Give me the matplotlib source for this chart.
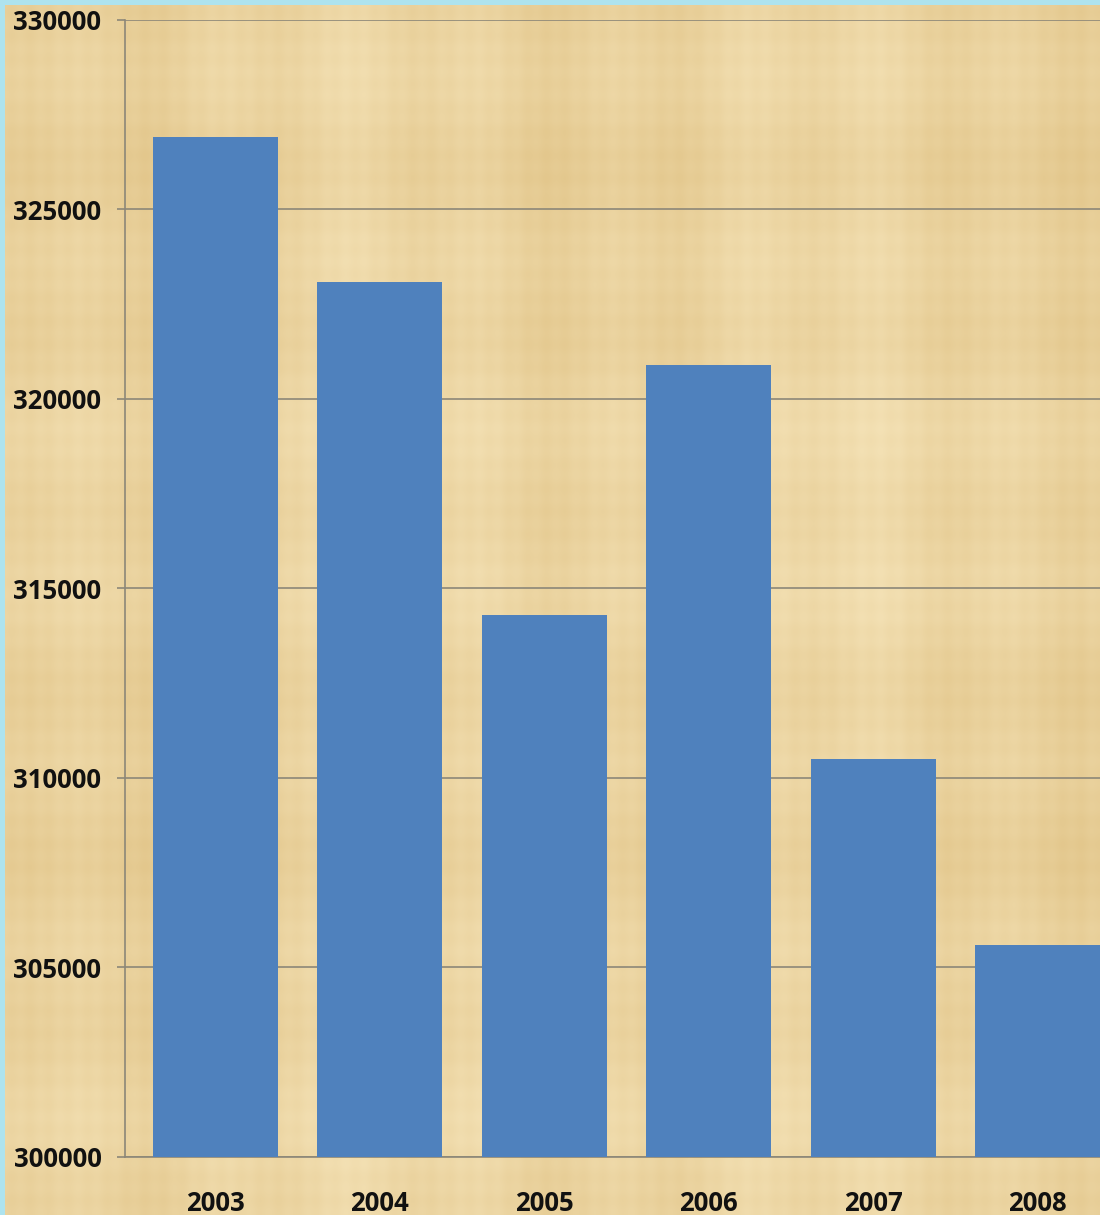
import numpy as np
import matplotlib
matplotlib.use('Agg')
import matplotlib.pyplot as plt

years = ['2003', '2004', '2005', '2006', '2007', '2008']
values = [326900, 323100, 314300, 320900, 310500, 305600]
yticks = [300000, 305000, 310000, 315000, 320000, 325000, 330000]

def papyrus(h, w):
    # simple woven-looking texture, purely decorative
    yy, xx = np.mgrid[0:h, 0:w]
    t = (np.sin(xx * 0.9) * 0.15 + np.sin(xx * 0.13 + 1.0) * 0.35 + np.sin(xx * 0.037) * 0.4
         + np.sin(yy * 0.8) * 0.12 + np.sin(yy * 0.11 + 2.0) * 0.3 + np.sin(yy * 0.029) * 0.3)
    t = (t - t.min()) / (t.max() - t.min())
    light = np.array([0.96, 0.89, 0.72])
    dark = np.array([0.89, 0.78, 0.55])
    return light[None, None, :] * (1 - t[..., None]) + dark[None, None, :] * t[..., None]

fig = plt.figure(figsize=(11, 12.15), dpi=100)
fig.patch.set_facecolor('#aee3ee')

bg = fig.add_axes([5 / 1100, 0, 1 - 5 / 1100, 1 - 5 / 1215])
bg.imshow(papyrus(400, 400), aspect='auto', interpolation='bilinear')
bg.axis('off')

ax = fig.add_axes([125 / 1100, 58 / 1215, 1 - 125 / 1100, (1157 - 20) / 1215])
ax.patch.set_alpha(0)
x = np.arange(len(years))
ax.bar(x, values, width=0.76, color='#4f81bd', zorder=3)
ax.set_ylim(300000, 330000)
ax.set_xlim(-0.55, 5.38)
ax.set_yticks(yticks)
ax.set_xticks(x)
ax.set_xticklabels(years)
ax.grid(axis='y', color='#8c8778', linewidth=1.2, zorder=1)
for s in ['top', 'right']:
    ax.spines[s].set_visible(False)
for s in ['left', 'bottom']:
    ax.spines[s].set_color('#8c8778')
    ax.spines[s].set_linewidth(1.2)
ax.tick_params(axis='y', length=6, color='#8c8778', width=1.2, pad=11)
ax.tick_params(axis='x', length=0, pad=24)
for lab in ax.get_xticklabels() + ax.get_yticklabels():
    lab.set_fontfamily('Open Sans')
    lab.set_fontweight('bold')
    lab.set_fontsize(18.5)
    lab.set_color('#111111')

fig.savefig('out.png', dpi=100)
